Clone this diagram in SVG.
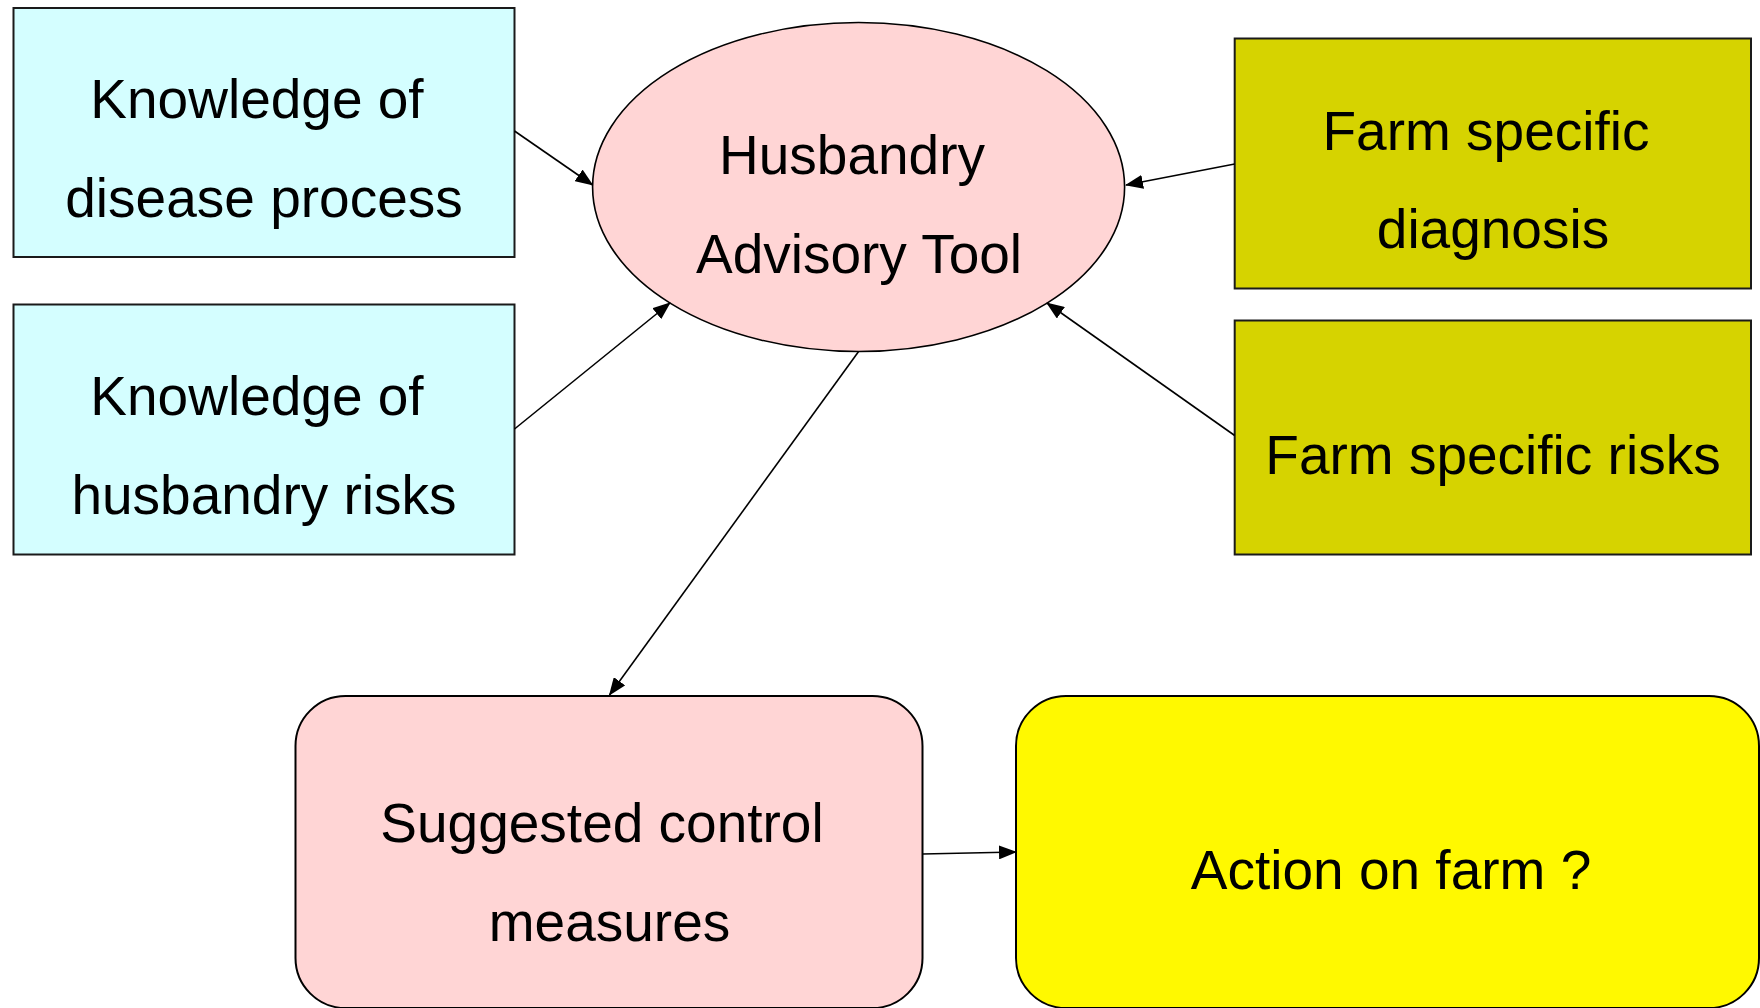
<svg xmlns="http://www.w3.org/2000/svg" width="1760" height="1008" viewBox="0 0 1760 1008">
<style>
text{font-family:"Liberation Sans",Arial,sans-serif;font-size:55px;fill:#000;text-anchor:middle}
.box{stroke:#1a1a1a;stroke-width:2}
.cyan{fill:#D4FEFF}
.pink{fill:#FFD5D5}
.olive{fill:#D6D300}
.yellow{fill:#FFF900}
.conn{stroke:#000;stroke-width:1.6;fill:none;marker-end:url(#ah)}
</style>
<defs>
<marker id="ah" markerUnits="userSpaceOnUse" markerWidth="18" markerHeight="14" refX="17" refY="7" orient="auto">
<path d="M0,0 L18,7 L0,14 Z" fill="#000"/>
</marker>
</defs>
<rect width="1760" height="1008" fill="#fff"/>
<g id="n-disease">
<rect class="box cyan" x="13.5" y="8" width="501" height="249"/>
<text x="257" y="118">Knowledge of</text>
<text x="264" y="217">disease process</text>
</g>
<g id="n-husbandry-risks">
<rect class="box cyan" x="13.5" y="304.5" width="501" height="250"/>
<text x="257" y="415">Knowledge of</text>
<text x="264" y="514">husbandry risks</text>
</g>
<g id="n-tool">
<ellipse class="pink" cx="858.6" cy="187" rx="266" ry="164.5" stroke="#000" stroke-width="1.6"/>
<text x="852" y="174">Husbandry</text>
<text x="859" y="273">Advisory Tool</text>
</g>
<g id="n-diagnosis">
<rect class="box olive" x="1234.7" y="38.5" width="516.3" height="250"/>
<text x="1486" y="150">Farm specific</text>
<text x="1493" y="248">diagnosis</text>
</g>
<g id="n-farm-risks">
<rect class="box olive" x="1234.7" y="320.5" width="516.3" height="234"/>
<text x="1493" y="474">Farm specific risks</text>
</g>
<g id="n-control">
<rect class="pink" x="295.5" y="696" width="627" height="312" rx="50" ry="50" stroke="#000" stroke-width="2"/>
<text x="602" y="842">Suggested control</text>
<text x="609.5" y="941">measures</text>
</g>
<g id="n-action">
<rect class="yellow" x="1016" y="696" width="743" height="312" rx="50" ry="50" stroke="#000" stroke-width="2"/>
<text x="1391" y="889">Action on farm ?</text>
</g>
<g id="connectors">
<line class="conn" x1="514.5" y1="131" x2="592.6" y2="185"/>
<line class="conn" x1="514.5" y1="429" x2="670" y2="303"/>
<line class="conn" x1="1234.7" y1="164" x2="1126" y2="185"/>
<line class="conn" x1="1234.7" y1="435.5" x2="1047" y2="303"/>
<line class="conn" x1="858.6" y1="351.5" x2="609.5" y2="695"/>
<line class="conn" x1="922.5" y1="854" x2="1016" y2="852"/>
</g>
</svg>
